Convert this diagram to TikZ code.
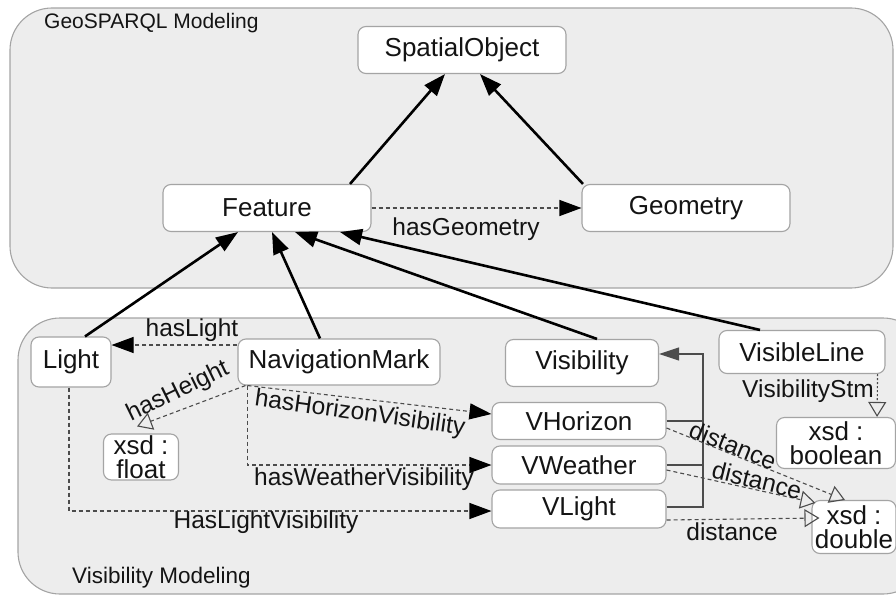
\documentclass[tikz,border=0pt]{standalone}
\usepackage{fontspec}
\setmainfont{Liberation Sans}
\usetikzlibrary{positioning, arrows.meta, calc}
\definecolor{panel}{HTML}{EDEDED}
\definecolor{rim}{HTML}{A4A4A4}
\definecolor{ink}{HTML}{141414}
\definecolor{edge}{HTML}{4C4C4C}

\begin{document}
\begin{tikzpicture}[
  x=1pt, y=-1pt,
  pane/.style={draw=rim, line width=1.1pt, fill=panel, rounded corners=42pt},
  cls/.style={draw=rim, line width=1.1pt, fill=white, rounded corners=8pt,
              align=center, text=ink, font=\fontsize{26}{27}\selectfont, inner sep=0pt},
  lbl/.style={font=\fontsize{24.5}{26}\selectfont, text=ink, inner sep=0pt},
  ttl/.style={font=\fontsize{21}{23}\selectfont, text=ink, anchor=west, inner sep=0pt},
  gen/.style={-{Triangle[length=22pt, width=16pt]}, line width=2.6pt, draw=black},
  rel/.style={-{Triangle[length=22pt, width=16pt, color=black]}, line width=1.1pt,
              draw=edge, dash pattern=on 4pt off 3pt},
  att/.style={-{Triangle[open, length=15pt, width=18pt]}, line width=1.1pt,
              draw=edge, dash pattern=on 4pt off 3pt},
  sub/.style={line width=1.3pt, draw=edge},
]
\useasboundingbox (0,0) rectangle (896,596);

% ── panels ───────────────────────────────────────────────────────────────────
\path[pane] (10,8) rectangle (893,288);
\path[pane] (18,318) rectangle (925,594);
\node[ttl] (geo) at (44,23) {GeoSPARQL Modeling};
\node[ttl, font=\fontsize{22.5}{24}\selectfont] (vism) at (72,578) {Visibility Modeling};

% ── GeoSPARQL classes ────────────────────────────────────────────────────────
\node[cls, minimum width=208pt, minimum height=47pt] (so)   at (462,50)  {SpatialObject};
\node[cls, minimum width=208pt, minimum height=47pt] (feat) at (267,208) {Feature};
\node[cls, minimum width=208pt, minimum height=47pt] (geom) at (686,208) {Geometry};

% ── visibility classes ───────────────────────────────────────────────────────
\node[cls, minimum width=80pt,  minimum height=50pt] (light)  at (71,362)  {Light};
\node[cls, minimum width=202pt, minimum height=46pt] (nav)    at (339,362) {NavigationMark};
\node[cls, minimum width=153pt, minimum height=47pt] (vis)    at (582,363) {Visibility};
\node[cls, minimum width=166pt, minimum height=43pt] (vline)  at (802,352) {VisibleLine};
\node[cls, minimum width=75pt,  minimum height=46pt] (xfloat) at (141,457) {xsd :\\[-3pt]float};
\node[cls, minimum width=174pt, minimum height=37pt] (vhor)   at (579,421) {VHorizon};
\node[cls, minimum width=174pt, minimum height=38pt] (vwea)   at (579,465) {VWeather};
\node[cls, minimum width=174pt, minimum height=38pt] (vlig)   at (579,509) {VLight};
\node[cls, minimum width=119pt, minimum height=51pt] (xbool)  at (836,443) {xsd :\\[-3pt]boolean};
\node[cls, minimum width=84pt,  minimum height=53pt] (xdbl)   at (854,527) {xsd :\\[-3pt]double};

% ── subclass arrows ──────────────────────────────────────────────────────────
\draw[gen] ($(feat.north)+(83,0)$) -- ($(so.south)+(-17,0)$);
\draw[gen] ($(geom.north)+(-103,0)$) -- ($(so.south)+(18,0)$);
\draw[gen] ($(light.north)+(14,0)$) -- ($(feat.south)+(-29,0)$);
\draw[gen] ($(nav.north)+(-19,0)$) -- ($(feat.south)+(5,0)$);
\draw[gen] ($(vis.north)+(15,0)$) -- ($(feat.south)+(28,0)$);
\draw[gen] ($(vline.north)+(-42,0)$) -- ($(feat.south)+(73,0)$);

% ── object properties ────────────────────────────────────────────────────────
\draw[rel] (feat.east) -- (geom.west);
\node[lbl] (hgeo) at (466,229) {hasGeometry};

\draw[rel] ($(nav.west)+(0,-17)$) -- ($(light.east)+(0,-17)$);
\node[lbl] (hlig) at (192,330) {hasLight};

\draw[rel] ($(nav.south west)+(10,0)$) -- ($(vhor.west)+(0,-7)$);
\node[lbl, rotate=-8] (hhor) at (360,414) {hasHorizonVisibility};

\draw[rel] ($(nav.south west)+(10,0)$) |- (vwea.west);
\node[lbl] (hwea) at (364,479) {hasWeatherVisibility};

\draw[rel] ($(light.south)+(-2,0)$) |- ($(vlig.west)+(0,2)$);
\node[lbl] (hlv) at (266,522) {HasLightVisibility};

% ── visibility subtypes ──────────────────────────────────────────────────────
\coordinate (jn) at ($(vis.east)+(44,-9)$);
\draw[sub] (vhor.east) -- (vhor.east -| jn);
\draw[sub] (vwea.east) -- (vwea.east -| jn);
\draw[sub, -{Triangle[length=20pt, width=13pt, color=edge]}]
  ($(vlig.east)+(0,-2)$) -| (jn) -- ($(vis.east)+(0,-9)$);

% ── datatype properties ──────────────────────────────────────────────────────
\draw[att] ($(nav.south west)+(8,0)$) -- ($(xfloat.north)+(-4,-7)$);
\node[lbl, rotate=26] (hhgt) at (178,392) {hasHeight};

\draw[att, dash pattern=on 2pt off 2pt] ($(vline.south east)+(-8,0)$) -- ($(xbool.north east)+(-19,0)$);
\node[lbl] (vstm) at (808,391) {VisibilityStm};

\draw[att] ($(vhor.east)+(0,7)$) -- ($(xdbl.north)+(-9,0)$);
\node[lbl, rotate=-22] (d1) at (733,445) {distance};
\draw[att] ($(vwea.east)+(0,5)$) -- ($(xdbl.north west)+(4,3)$);
\node[lbl, rotate=-14] (d2) at (757,480) {distance};
\draw[att] ($(vlig.east)+(0,11)$) -- ($(xdbl.west)+(8,-9)$);
\node[lbl] (d3) at (732,532) {distance};

\end{tikzpicture}
\end{document}
